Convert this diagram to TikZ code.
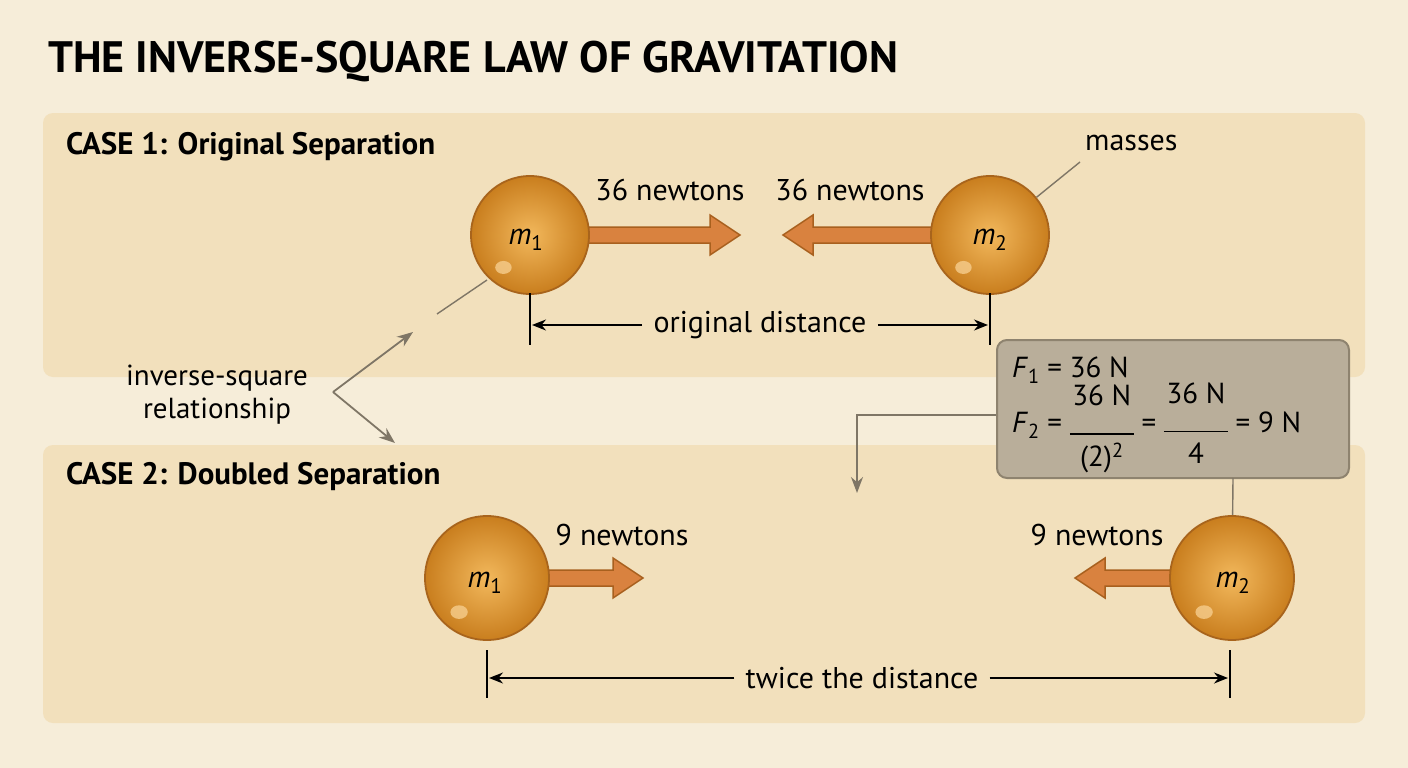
\documentclass[tikz,border=0pt]{standalone}
\usepackage{fontspec}
\setmainfont{PT Sans}
\usetikzlibrary{arrows.meta}
\definecolor{bg}{HTML}{F6EDD9}
\definecolor{panel}{HTML}{F2E0BC}
\definecolor{orb}{HTML}{E39A32}
\definecolor{orbd}{HTML}{C97E1E}
\definecolor{orbl}{HTML}{F2B85C}
\definecolor{orbe}{HTML}{A8641C}
\definecolor{arr}{HTML}{D9823F}
\definecolor{arre}{HTML}{A8601E}
\definecolor{boxf}{HTML}{B9AE9A}
\definecolor{boxe}{HTML}{8E836F}
\definecolor{gl}{HTML}{7F7666}
\tikzset{
 panel/.style={fill=panel,rounded corners=10pt,draw=none},
 lbl/.style={font=\fontsize{30}{34}\selectfont,inner sep=0pt},
 case/.style={font=\fontsize{31}{34}\selectfont\bfseries,anchor=west,inner sep=0pt},
 dim/.style={line width=1.6pt,{Bar[width=0pt]}-{Stealth[length=14pt,width=11pt]}},
 tick/.style={line width=1.6pt},
 ptr/.style={draw=gl,line width=1.8pt},
 ptra/.style={ptr,-{Stealth[length=16pt,width=12pt]}},
}
\newcommand{\orbmass}[4]{% name, x, y, label
 \node[circle,minimum size=#4,inner sep=0pt,draw=orbe,line width=1.8pt,inner color=orbl,outer color=orbd] (#1) at (#2,#3) {};
 \fill[orbl!70!white,opacity=.8] ($(#2,#3)+(-0.45*#4/2,-0.55*#4/2)$) ellipse[x radius=0.14*#4/2,y radius=0.11*#4/2];
}
\newcommand{\farrow}[4]{% name x1 x2 y
 \pgfmathsetmacro{\dir}{(#3>#2)?1:-1}
 \pgfmathsetmacro{\hb}{#3-\dir*30}
 \draw[fill=arr,draw=arre,line width=1.5pt,line join=miter]
  (#2,#4-8) -- (\hb,#4-8) -- (\hb,#4-20) -- (#3,#4) -- (\hb,#4+20) -- (\hb,#4+8) -- (#2,#4+8) -- cycle;
 \coordinate (#1) at (#3,#4);
}
\usetikzlibrary{calc}
\begin{document}
\begin{tikzpicture}[x=1pt,y=-1pt]
\fill[bg] (0,0) rectangle (1408,768);
\useasboundingbox (0,0) rectangle (1408,768);
\node[font=\fontsize{44}{48}\selectfont\bfseries,anchor=west,inner sep=0pt] (title) at (48,62) {THE INVERSE-SQUARE LAW OF GRAVITATION};
\fill[panel,rounded corners=10pt] (43,113) rectangle (1365,377);
\fill[panel,rounded corners=10pt] (43,445) rectangle (1365,723);
\node[case] (c1) at (66,147) {CASE 1: Original Separation};
\node[case] (c2) at (66,477) {CASE 2: Doubled Separation};
% case 1
\farrow{a1}{580}{740}{235}
\farrow{a2}{940}{783}{235}
\orbmass{m1}{530}{235}{118pt}
\orbmass{m2}{990}{235}{118pt}
\node[lbl,font=\fontsize{30}{34}\selectfont\itshape] at (526,240) {m\textsubscript{\normalfont 1}};
\node[lbl,font=\fontsize{30}{34}\selectfont\itshape] at (990,240) {m\textsubscript{\normalfont 2}};
\node[lbl] (f1) at (670,190) {36 newtons};
\node[lbl] (f2) at (850,190) {36 newtons};
\node[lbl,anchor=west] (ms) at (1085,143) {masses};
\draw[ptr,line width=1.4pt] (1080,162) -- (m2);
\draw[tick] (530,293) -- (530,345);
\draw[tick] (990,293) -- (990,345);
\node[lbl] (od) at (760,325) {original distance};
\draw[dim] (od.west) ++(-10,0) -- (532,325);
\draw[dim] (od.east) ++(10,0) -- (988,325);
\draw[ptr,line width=1.4pt] (m1) ++(-43,45) coordinate (t1) -- (437,314);
% relationship
\node[lbl,align=center,font=\fontsize{29}{33}\selectfont] (rel) at (217,395) {inverse-square\\relationship};
\coordinate (vx) at (333,392);
\draw[ptra] (vx) -- (413,332);
\draw[ptra] (vx) -- (395,443);
% case 2
\farrow{b1}{540}{643}{578}
\farrow{b2}{1180}{1075}{578}
\orbmass{n1}{487}{578}{124pt}
\orbmass{n2}{1232}{578}{124pt}
\node[lbl,font=\fontsize{30}{34}\selectfont\itshape] at (485,583) {m\textsubscript{\normalfont 1}};
\node[lbl,font=\fontsize{30}{34}\selectfont\itshape] at (1233,583) {m\textsubscript{\normalfont 2}};
\node[lbl] (g1) at (622,535) {9 newtons};
\node[lbl] (g2) at (1097,535) {9 newtons};
\draw[tick] (487,650) -- (487,698);
\draw[tick] (1230,650) -- (1230,698);
\node[lbl] (td) at (862,678) {twice the distance};
\draw[dim] (td.west) ++(-10,0) -- (489,678);
\draw[dim] (td.east) ++(10,0) -- (1228,678);
% formula box
\node[draw=boxe,fill=boxf,line width=2pt,rounded corners=10pt,minimum width=352pt,minimum height=138pt,inner sep=0pt] (fb) at (1173,409) {};
\node[anchor=west,inner sep=0pt,font=\fontsize{29}{33}\selectfont] at (1012,370) {\textit{F}\textsubscript{1} = 36 N};
\node[anchor=west,inner sep=0pt,font=\fontsize{29}{33}\selectfont] at (1012,428) {\textit{F}\textsubscript{2} = \raisebox{-0.1em}{$\vcenter{\hbox{\begin{tabular}{@{}c@{}}36 N\\[-4pt]\rule{64pt}{1.3pt}\\[-2pt](2)\textsuperscript{2}\end{tabular}}}$} = $\vcenter{\hbox{\begin{tabular}{@{}c@{}}36 N\\[-4pt]\rule{64pt}{1.3pt}\\[-2pt]4\end{tabular}}}$ = 9 N};
\draw[ptra,line width=1.4pt] (fb.west |- 0,415) -| (857,493);
\draw[ptr,line width=1.4pt] (1233,478) -- (n2);
\end{tikzpicture}
\end{document}
